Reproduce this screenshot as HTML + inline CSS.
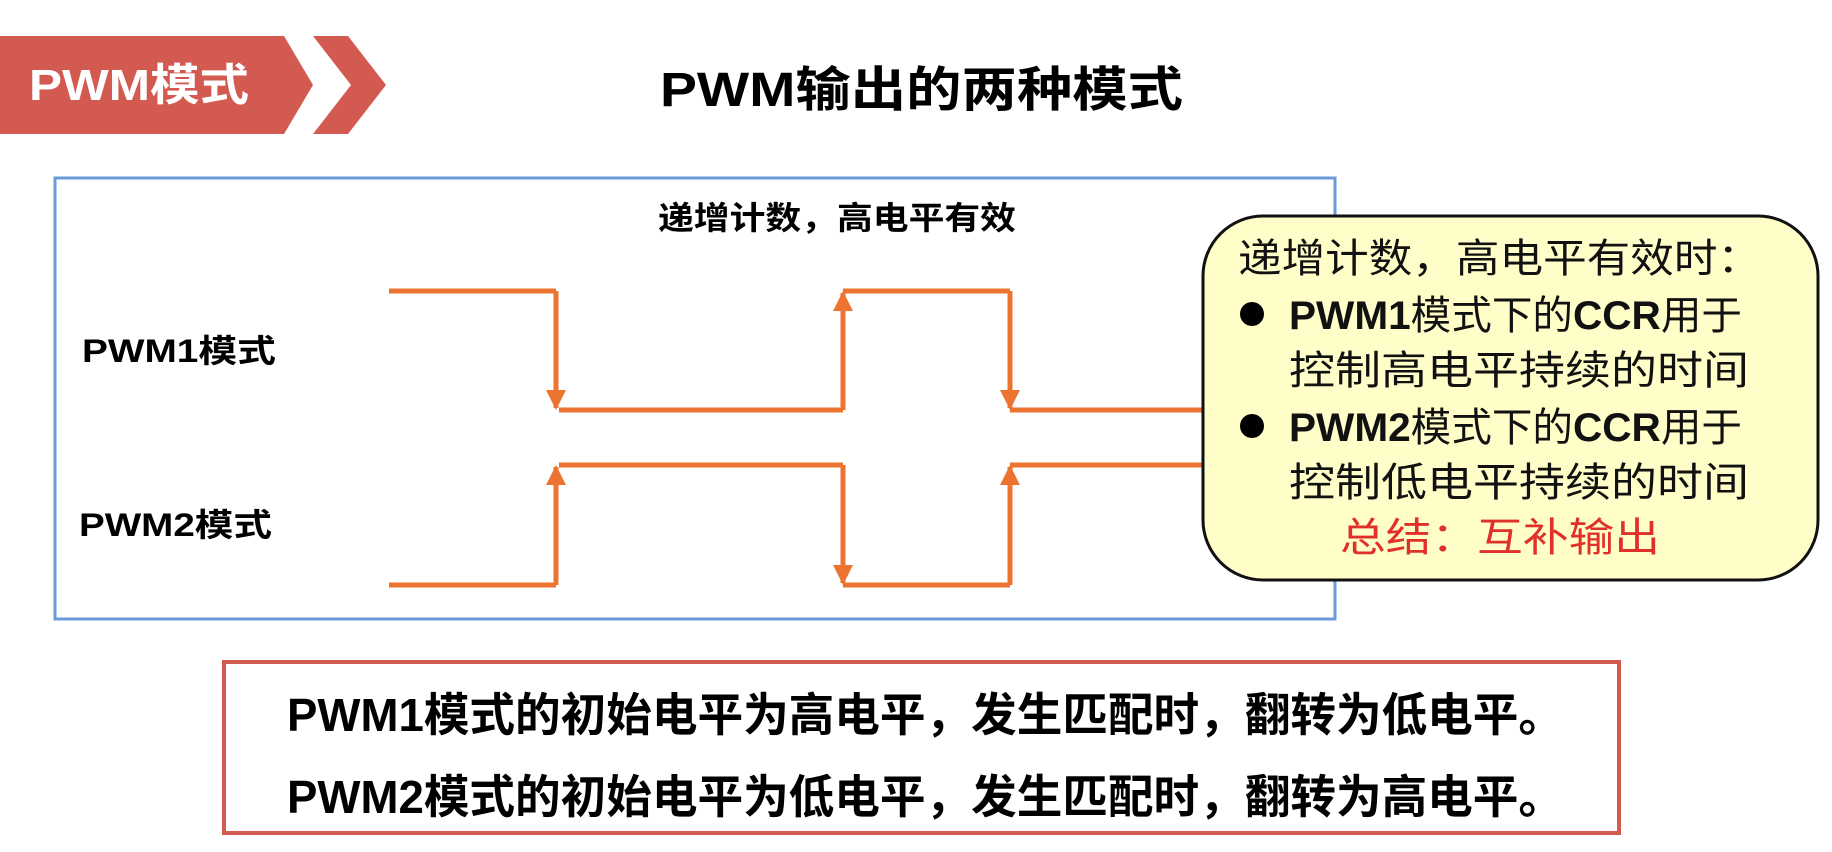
<!DOCTYPE html>
<html><head><meta charset="utf-8"><style>
html,body{margin:0;padding:0;background:#fff;}
svg{display:block;}
text{font-family:"Liberation Sans","Noto Sans CJK SC",sans-serif;}
</style></head><body>
<svg width="1832" height="852" viewBox="0 0 1832 852" xmlns="http://www.w3.org/2000/svg">
<defs>
<marker id="ah" viewBox="0 0 10 10" refX="9" refY="5" markerWidth="4" markerHeight="4" orient="auto"><path d="M0,0 L10,5 L0,10 z" fill="#ed7331"/></marker>
</defs>
<!-- tab -->
<polygon points="0,36 284,36 313,85 284,134 0,134" fill="#d35a50"/>
<polygon points="313,36 348,36 386,85 348,134 313,134 351,85" fill="#d35a50"/>
<text x="29" y="100" font-size="44" font-weight="bold" fill="#fff" textLength="220" lengthAdjust="spacingAndGlyphs">PWM模式</text>
<text x="660" y="106" font-size="48" font-weight="bold" fill="#000" textLength="523" lengthAdjust="spacingAndGlyphs">PWM输出的两种模式</text>
<!-- blue box -->
<rect x="55" y="178" width="1280" height="441" fill="none" stroke="#6a9bd8" stroke-width="3"/>
<text x="658" y="229" font-size="32" font-weight="bold" textLength="358" lengthAdjust="spacingAndGlyphs">递增计数，高电平有效</text>
<text x="82" y="362" font-size="32" font-weight="bold" textLength="194" lengthAdjust="spacingAndGlyphs">PWM1模式</text>
<text x="79" y="536" font-size="32" font-weight="bold" textLength="193" lengthAdjust="spacingAndGlyphs">PWM2模式</text>
<!-- waveforms -->
<g stroke="#ed7331" stroke-width="5" fill="none">
<polyline points="389,291 556,291"/>
<polyline points="559,410 843,410"/>
<polyline points="843,291 1010,291"/>
<polyline points="1010,410 1210,410"/>
<polyline points="389,585 556,585"/>
<polyline points="559,465 843,465"/>
<polyline points="843,585 1010,585"/>
<polyline points="1010,465 1210,465"/>
<line x1="556" y1="291" x2="556" y2="408" marker-end="url(#ah)"/>
<line x1="843" y1="410" x2="843" y2="293" marker-end="url(#ah)"/>
<line x1="1010" y1="291" x2="1010" y2="408" marker-end="url(#ah)"/>
<line x1="556" y1="585" x2="556" y2="467" marker-end="url(#ah)"/>
<line x1="843" y1="465" x2="843" y2="583" marker-end="url(#ah)"/>
<line x1="1010" y1="585" x2="1010" y2="467" marker-end="url(#ah)"/>
</g>
<!-- callout -->
<rect x="1203" y="216" width="615" height="364" rx="60" ry="60" fill="#fffdc8" stroke="#111" stroke-width="3"/>
<g font-size="40" fill="#111">
<text x="1238" y="272" textLength="523" lengthAdjust="spacingAndGlyphs">递增计数，高电平有效时：</text>
<circle cx="1252" cy="314" r="12" fill="#000"/>
<text x="1289" y="329" textLength="453" lengthAdjust="spacingAndGlyphs"><tspan font-weight="bold">PWM1</tspan>模式下的<tspan font-weight="bold">CCR</tspan>用于</text>
<text x="1289" y="384" textLength="460" lengthAdjust="spacingAndGlyphs">控制高电平持续的时间</text>
<circle cx="1252" cy="426" r="12" fill="#000"/>
<text x="1289" y="441" textLength="453" lengthAdjust="spacingAndGlyphs"><tspan font-weight="bold">PWM2</tspan>模式下的<tspan font-weight="bold">CCR</tspan>用于</text>
<text x="1289" y="496" textLength="460" lengthAdjust="spacingAndGlyphs">控制低电平持续的时间</text>
<text x="1340" y="551" fill="#e0302a" textLength="320" lengthAdjust="spacingAndGlyphs">总结：互补输出</text>
</g>
<!-- bottom box -->
<rect x="224" y="662" width="1395" height="171" fill="none" stroke="#d35a50" stroke-width="4"/>
<text x="287" y="731" font-size="46" font-weight="bold" textLength="1277" lengthAdjust="spacingAndGlyphs">PWM1模式的初始电平为高电平，发生匹配时，翻转为低电平。</text>
<text x="287" y="813" font-size="46" font-weight="bold" textLength="1277" lengthAdjust="spacingAndGlyphs">PWM2模式的初始电平为低电平，发生匹配时，翻转为高电平。</text>
</svg>
</body></html>
